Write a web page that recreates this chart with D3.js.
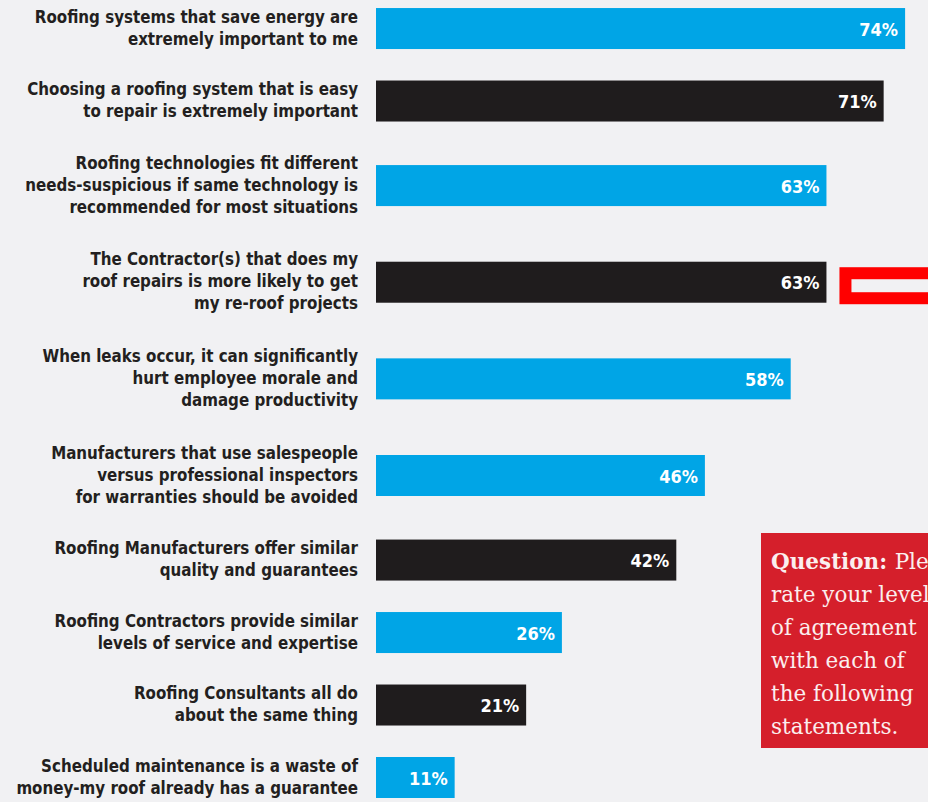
<!DOCTYPE html>
<html>
<head>
<meta charset="utf-8">
<script src="https://cdn.jsdelivr.net/npm/d3@7"></script>
<style>
  html, body { margin: 0; padding: 0; background: #f1f1f3; overflow: hidden; }
  svg { display: block; }
</style>
</head>
<body>
<svg id="chart" width="928" height="802"></svg>
<script>
var statements = [
    ['Roofing systems that save energy are', 'extremely important to me'],
    ['Choosing a roofing system that is easy', 'to repair is extremely important'],
    ['Roofing technologies fit different', 'needs-suspicious if same technology is', 'recommended for most situations'],
    ['The Contractor(s) that does my', 'roof repairs is more likely to get', 'my re-roof projects'],
    ['When leaks occur, it can significantly', 'hurt employee morale and', 'damage productivity'],
    ['Manufacturers that use salespeople', 'versus professional inspectors', 'for warranties should be avoided'],
    ['Roofing Manufacturers offer similar', 'quality and guarantees'],
    ['Roofing Contractors provide similar', 'levels of service and expertise'],
    ['Roofing Consultants all do', 'about the same thing'],
    ['Scheduled maintenance is a waste of', 'money-my roof already has a guarantee']
]
var percents = [74, 71, 63, 63, 58, 46, 42, 26, 21, 11]
var barColors = ['blue', 'black', 'blue', 'black', 'blue', 'blue', 'black', 'blue', 'black', 'blue']
var questionLines = ['Please', 'rate your level', 'of agreement', 'with each of', 'the following', 'statements.']
var highlightRow = 3

var palette = { blue: '#00a5e6', black: '#1f1c1d' }
var labelFont = '"Liberation Sans Narrow", "DejaVu Sans Condensed", sans-serif'

var svg = d3.select('#chart')
var width = +svg.attr('width')

// each row takes (number of label lines + 1) units of height
var rows = []
var acc = 0
statements.forEach(function (lines, i) {
    var units = lines.length + 1
    rows.push({ lines: lines, value: percents[i], color: barColors[i], center: acc + units / 2 })
    acc += units
})

var yScale = d3.scaleLinear()
               .domain([0, acc])
               .range([-7.7, -7.7 + acc * 24.16])
var xScale = d3.scaleLinear()
               .domain([0, 100])
               .range([376, 376 + 715])

var barHeight = 41

var gs = svg.selectAll('.row')
            .data(rows)
            .enter()
            .append('g')
            .attr('class', 'row')

gs.append('rect')
  .attr('x', xScale(0))
  .attr('y', function (d) { return yScale(d.center) - barHeight / 2 })
  .attr('width', function (d) { return xScale(d.value) - xScale(0) })
  .attr('height', barHeight)
  .attr('fill', function (d) { return palette[d.color] })

gs.append('text')
  .attr('x', function (d) { return xScale(d.value) - 7 })
  .attr('y', function (d) { return yScale(d.center) + 7 })
  .attr('text-anchor', 'end')
  .attr('fill', '#ffffff')
  .style('font-family', labelFont)
  .style('font-weight', 'bold')
  .style('font-size', '18px')
  .text(function (d) { return d.value + '%' })

var lineGap = 22
gs.append('text')
  .attr('text-anchor', 'end')
  .attr('fill', '#231f20')
  .style('font-family', labelFont)
  .style('font-weight', 'bold')
  .style('font-size', '16.8px')
  .selectAll('tspan')
  .data(function (d) {
      return d.lines.map(function (l, j) {
          return { text: l, y: yScale(d.center) + 5 + (j - (d.lines.length - 1) / 2) * lineGap }
      })
  })
  .enter()
  .append('tspan')
  .attr('x', 358)
  .attr('y', function (d) { return d.y })
  .text(function (d) { return d.text })

// red outline marker next to the highlighted bar
var hl = rows[highlightRow]
svg.append('rect')
   .attr('x', xScale(hl.value) + 19)
   .attr('y', yScale(hl.center) - 9)
   .attr('width', 120)
   .attr('height', 25)
   .attr('fill', 'none')
   .attr('stroke', '#ff0000')
   .attr('stroke-width', 12)

// question box
var qx = 761
var qy = 533
svg.append('rect')
   .attr('x', qx)
   .attr('y', qy)
   .attr('width', width - qx + 20)
   .attr('height', 215)
   .attr('fill', '#d51f2b')

var qText = svg.append('text')
               .attr('fill', '#fbeeee')
               .style('font-family', '"DejaVu Serif", serif')
               .style('font-size', '21.5px')
questionLines.forEach(function (l, j) {
    var t = qText.append('tspan')
                 .attr('x', qx + 10)
                 .attr('y', qy + 36 + j * 33)
    if (j === 0) {
        t.append('tspan').style('font-weight', 'bold').text('Question: ')
    }
    t.append('tspan').text(l)
})
</script>
</body>
</html>
